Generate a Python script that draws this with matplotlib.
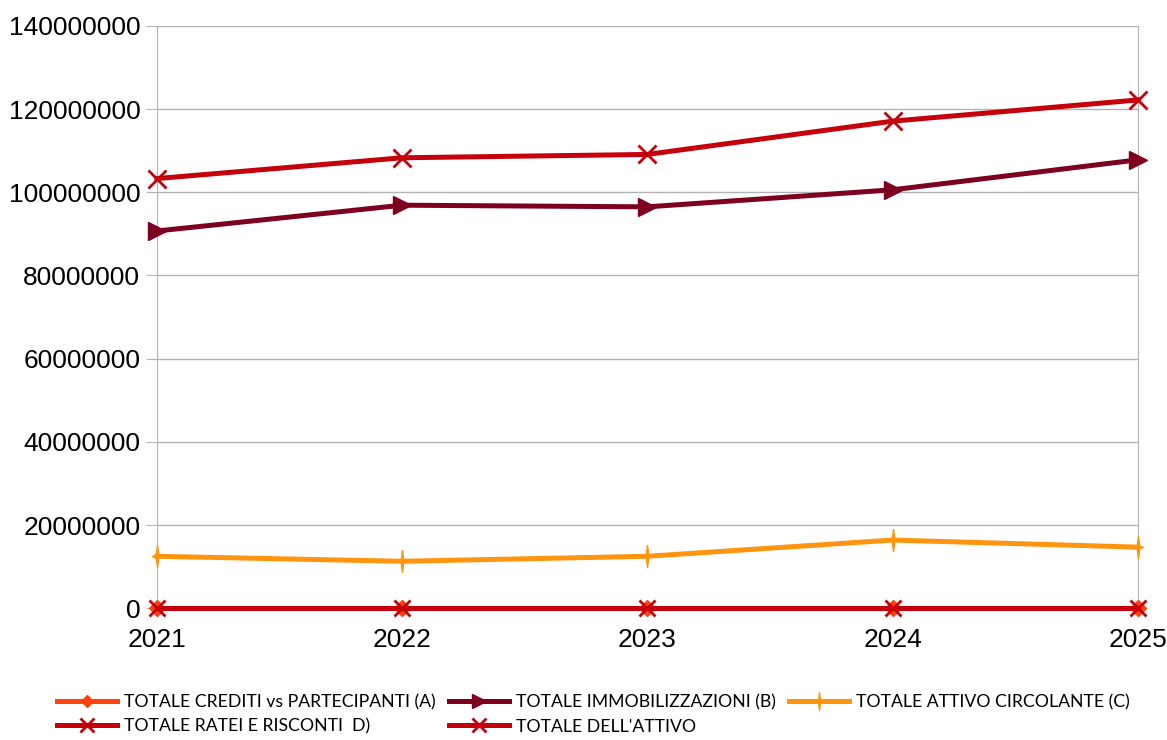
import numpy as np
import matplotlib
matplotlib.use('agg')
import matplotlib.pyplot as plt
from matplotlib.path import Path

years = [2021, 2022, 2023, 2024, 2025]
crediti = [0, 0, 0, 0, 0]
immobilizzazioni = [90700000, 96900000, 96500000, 100600000, 107800000]
circolante = [12500000, 11300000, 12500000, 16400000, 14700000]
ratei = [100000, 100000, 100000, 100000, 100000]
totale = [103300000, 108300000, 109100000, 117100000, 122200000]

labels = ['TOTALE CREDITI vs PARTECIPANTI (A)', 'TOTALE IMMOBILIZZAZIONI (B)',
          'TOTALE ATTIVO CIRCOLANTE (C)', 'TOTALE RATEI E RISCONTI  D)',
          "TOTALE DELL'ATTIVO"]

# thin vertical 4-point star used for the orange series
star = Path([(0, 1), (0.12, 0.1), (0.45, 0), (0.12, -0.1), (0, -1),
             (-0.12, -0.1), (-0.45, 0), (-0.12, 0.1), (0, 1)])

fig = plt.figure(figsize=(11.67, 7.4), dpi=100)
ax = fig.add_axes([0.1345, 0.178, 0.8405, 0.787])

lw = 3.6
l1, = ax.plot(years, crediti, color='#ff420e', lw=lw, marker='D', ms=8, clip_on=False, zorder=3)
l2, = ax.plot(years, immobilizzazioni, color='#7e0021', lw=lw, marker='>', ms=13, clip_on=False, zorder=3)
l3, = ax.plot(years, circolante, color='#ff950e', lw=lw, marker=star, ms=16, clip_on=False, zorder=3)
l4, = ax.plot(years, ratei, color='#c5000b', lw=lw, marker='x', ms=12, mew=2, clip_on=False, zorder=4)
l5, = ax.plot(years, totale, color='#c5000b', lw=lw, marker='x', ms=13, mew=2, clip_on=False, zorder=3)

ax.set_xlim(2021, 2025)
ax.set_ylim(0, 140000000)
ax.set_xticks(years)
ax.set_yticks(np.arange(0, 140000001, 20000000))
ax.set_yticklabels([str(v) for v in range(0, 140000001, 20000000)])
ax.yaxis.grid(True, color='#b3b3b3', lw=1)
ax.set_axisbelow(True)
for s in ['left', 'right']:
    ax.spines[s].set_color('#b3b3b3')
ax.spines['top'].set_visible(False)
ax.spines['bottom'].set_color('#b3b3b3')
ax.tick_params(axis='y', length=8, color='#b3b3b3', labelsize=19, pad=4)
ax.tick_params(axis='x', length=0, labelsize=19, pad=14)
for t in ax.get_xticklabels() + ax.get_yticklabels():
    t.set_fontfamily('Liberation Sans')

# matplotlib fills legend columns first; reorder so it reads row by row
order = [0, 3, 1, 4, 2]
handles = [l1, l2, l3, l4, l5]
fig.legend([handles[i] for i in order], [labels[i] for i in order],
           loc='upper left', bbox_to_anchor=(0.035, 0.083),
           ncol=3, frameon=False, handlelength=3.4, columnspacing=0.75, handletextpad=0.4,
           labelspacing=0.45, borderpad=0.4, markerscale=0.8,
           prop={'family': 'Lato', 'size': 12.7})

fig.savefig('out.png')
